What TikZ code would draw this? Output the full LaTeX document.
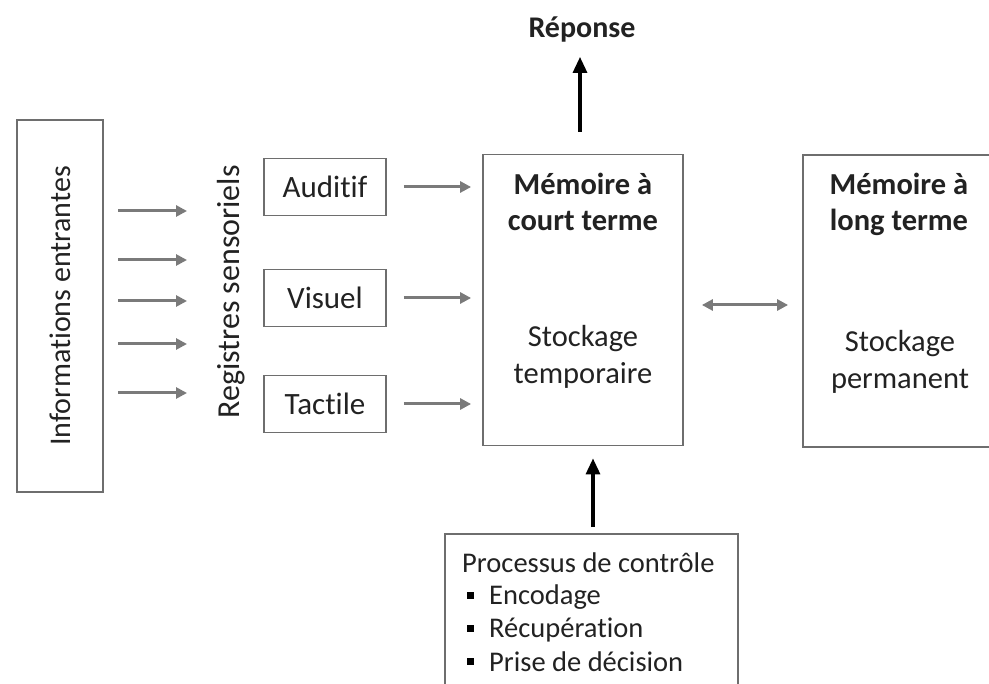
\documentclass[tikz,border=0pt]{standalone}
\usepackage{fontspec}
\setmainfont{Carlito}[Ligatures=NoCommon]
\usetikzlibrary{arrows.meta,calc}
\definecolor{txt}{HTML}{222222}
\definecolor{edge}{HTML}{6E6E6E}
\definecolor{garrow}{HTML}{7A7A7A}
\begin{document}
\begin{tikzpicture}[x=1pt,y=-1pt,
  box/.style={draw=edge,line width=1.8pt,fill=white,inner sep=0pt,text=txt},
  lbl/.style={text=txt,inner sep=0pt,font=\fontsize{30}{36}\selectfont},
  garr/.style={draw=garrow,line width=3pt,-{Triangle[length=11pt,width=11pt]}},
  barr/.style={draw=black,line width=3.2pt,-{Triangle[length=16pt,width=14pt]}},
  darr/.style={draw=garrow,line width=3pt,{Triangle[length=11pt,width=11pt]}-{Triangle[length=11pt,width=11pt]}},
  blt/.style={fill=black,minimum size=7pt,inner sep=0pt}]
\clip (0,0) rectangle (989,684);
\fill[white] (0,0) rectangle (989,684);

% boxes
\node[box,minimum width=86pt,minimum height=372pt] (info) at (60,306) {};
\node[lbl,rotate=90] (infot) at (info.center) {Informations entrantes};
\node[lbl,rotate=90,font=\fontsize{32}{38}\selectfont] (reg) at (231,292) {Registres sensoriels};

\node[box,minimum width=122pt,minimum height=57pt,font=\fontsize{31}{36}\selectfont] (aud) at (325,187) {Auditif};
\node[box,minimum width=122pt,minimum height=57pt,font=\fontsize{31}{36}\selectfont] (vis) at (325,298) {Visuel};
\node[box,minimum width=122pt,minimum height=57pt,font=\fontsize{31}{36}\selectfont] (tac) at (325,404) {Tactile};

\node[box,minimum width=200pt,minimum height=291pt] (stm) at (583,300) {};
\node[lbl,align=center,font=\fontsize{30.5}{36}\selectfont\bfseries,anchor=north] (stmt) at (583,173) {Mémoire à\\court terme};
\node[lbl,align=center,font=\fontsize{30.5}{37}\selectfont] (stms) at (583,357) {Stockage\\temporaire};

\node[box,minimum width=190pt,minimum height=292pt] (ltm) at (898,301) {};
\node[lbl,align=center,font=\fontsize{30.5}{36}\selectfont\bfseries,anchor=north] (ltmt) at (899,173) {Mémoire à\\long terme};
\node[lbl,align=center,font=\fontsize{30.5}{37}\selectfont] (ltms) at (900,362) {Stockage\\permanent};

\node[lbl,font=\fontsize{30}{36}\selectfont\bfseries] (rep) at (582,30) {Réponse};

\node[box,minimum width=293pt,minimum height=180pt] (ctl) at (591.5,624) {};
\node[lbl,anchor=west,font=\fontsize{28.5}{33}\selectfont] (ctlt) at (462,563) {Processus de contrôle};
\node[blt] (b1) at (470,596) {};
\node[blt] (b2) at (470,629) {};
\node[blt] (b3) at (470,661) {};
\node[lbl,anchor=west,font=\fontsize{28.5}{33}\selectfont] (e1) at (489,597) {Encodage};
\node[lbl,anchor=west,font=\fontsize{28.5}{33}\selectfont] (e2) at (489,630) {Récupération};
\node[lbl,anchor=west,font=\fontsize{28.5}{33}\selectfont] (e3) at (489,662) {Prise de décision};

% input arrows
\foreach \i/\y in {1/211,2/260,3/301,4/344,5/393}{
  \coordinate (s\i) at (118,\y);
  \coordinate (t\i) at (187,\y);
  \draw[garr] (s\i) -- (t\i);
}
% register arrows
\draw[garr] ([xshift=17pt]aud.east) -- ([xshift=-11pt]aud.east -| stm.west);
\draw[garr] ([xshift=17pt]vis.east) -- ([xshift=-11pt]vis.east -| stm.west);
\draw[garr] ([xshift=17pt]tac.east) -- ([xshift=-11pt]tac.east -| stm.west);
% double arrow
\draw[darr] ([xshift=18pt]stm.east |- 0,305) -- ([xshift=-14pt]ltm.west |- 0,305);
% response
\draw[barr] ([yshift=22pt]stm.north -| 580,0) -- ([yshift=-14pt]rep.south -| 580,0);
% control
\draw[barr] ([yshift=6pt]ctl.north -| 593,0) -- ([yshift=-12pt]stm.south -| 593,0);
\end{tikzpicture}
\end{document}
